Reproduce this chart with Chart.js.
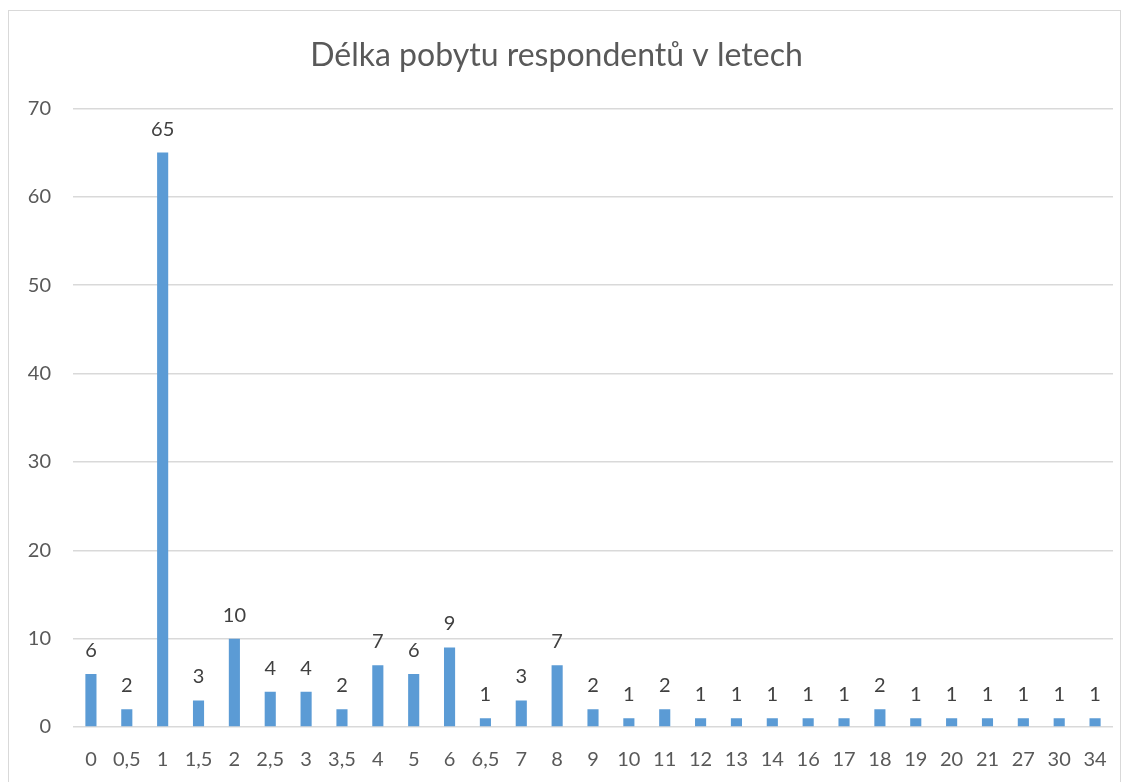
<!DOCTYPE html>
<html>
<head>
<meta charset="utf-8">
<script src="https://cdn.jsdelivr.net/npm/chart.js@4"></script>
<style>
    html, body { margin: 0; padding: 0; background: #fff; }
    #wrap { position: relative; width: 1131px; height: 782px; overflow: hidden; }
    #frame { position: absolute; left: 8px; top: 10px; width: 1113px; height: 800px; border: 1px solid #d9d9d9; box-sizing: border-box; }
    canvas { position: absolute; left: 0; top: 0; }
</style>
</head>
<body>
<div id="wrap">
    <div id="frame"></div>
    <canvas id="chart" width="1131" height="782"></canvas>
</div>
<script>
const categories = ["0", "0,5", "1", "1,5", "2", "2,5", "3", "3,5", "4", "5", "6", "6,5", "7", "8", "9", "10", "11", "12", "13", "14", "16", "17", "18", "19", "20", "21", "27", "30", "34"];
const counts = [6, 2, 65, 3, 10, 4, 4, 2, 7, 6, 9, 1, 3, 7, 2, 1, 2, 1, 1, 1, 1, 1, 2, 1, 1, 1, 1, 1, 1];
const yTicks = [0, 10, 20, 30, 40, 50, 60, 70];

const fontFamily = "Lato, 'Open Sans', sans-serif";

// simple value labels above the bars
const valueLabels = {
    id: "valueLabels",
    afterDatasetsDraw(chart) {
        const ctx = chart.ctx;
        const meta = chart.getDatasetMeta(0);
        ctx.save();
        ctx.font = "20px " + fontFamily;
        ctx.fillStyle = "#404040";
        ctx.textAlign = "center";
        ctx.textBaseline = "alphabetic";
        meta.data.forEach((bar, i) => {
            ctx.fillText(String(counts[i]), bar.x, bar.y - 17);
        });
        ctx.restore();
    }
};

const ctx = document.getElementById("chart").getContext("2d");
const chart = new Chart(ctx, {
    type: "bar",
    data: {
        labels: categories,
        datasets: [{
            label: "Počet",
            data: counts,
            backgroundColor: "#5b9bd5",
            barPercentage: 0.31,
            categoryPercentage: 1.0,
        }],
    },
    options: {
        responsive: false,
        animation: false,
        layout: { padding: { top: 0, right: 18, bottom: 0, left: 0 } },
        plugins: {
            legend: { display: false },
            tooltip: { enabled: false },
            title: {
                display: true,
                text: "Délka pobytu respondentů v letech",
                color: "#595959",
                font: { family: fontFamily, size: 32, weight: "normal" },
                padding: { top: 36, bottom: 34 },
            },
        },
        scales: {
            x: {
                grid: { display: false },
                border: { display: false },
                ticks: {
                    color: "#595959",
                    font: { family: fontFamily, size: 20 },
                    padding: 13,
                    maxRotation: 0,
                    autoSkip: false,
                },
                afterFit(scale) { scale.height = 55; },
            },
            y: {
                min: 0,
                max: 70,
                afterBuildTicks(scale) { scale.ticks = yTicks.map(v => ({ value: v })); },
                grid: { color: "#d9d9d9", lineWidth: 1.5, drawTicks: false },
                border: { display: false },
                ticks: {
                    color: "#595959",
                    font: { family: fontFamily, size: 20 },
                    padding: 22,
                },
                afterFit(scale) { scale.width = 73; },
            },
        },
    },
    plugins: [valueLabels],
});
</script>
</body>
</html>
